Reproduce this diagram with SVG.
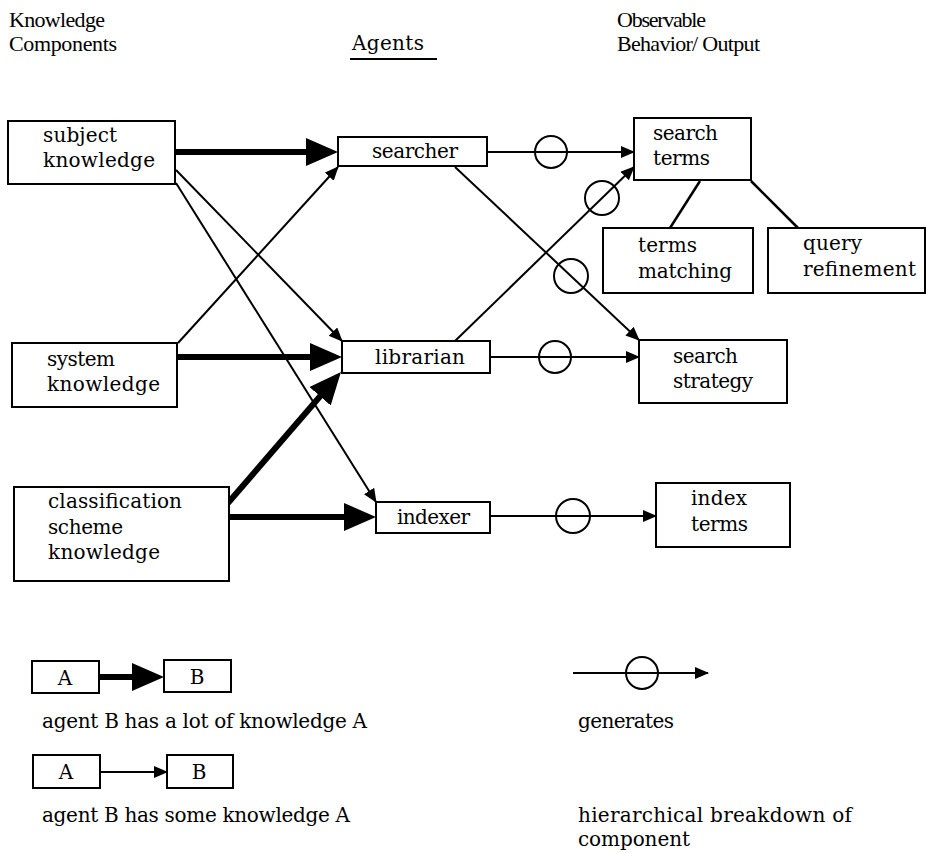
<svg xmlns="http://www.w3.org/2000/svg" width="926" height="853" viewBox="0 0 926 853">
<style>
  .box { fill: #fff; stroke: #000; stroke-width: 2; }
  .t { font-family: "DejaVu Serif", "Liberation Serif", serif; font-size: 20px; fill: #000; }
  .h { font-family: "Liberation Serif", "DejaVu Serif", serif; font-size: 22px; fill: #000; }
  .thick { stroke: #000; stroke-width: 6; fill: none; marker-end: url(#big); }
  .thin { stroke: #000; stroke-width: 2; fill: none; marker-end: url(#small); }
  .gen { fill: none; stroke: #000; stroke-width: 2; }
  .hier { stroke: #000; stroke-width: 2.5; fill: none; }
</style>
<defs>
  <marker id="big" markerUnits="userSpaceOnUse" markerWidth="34" markerHeight="30" refX="10" refY="14" orient="auto">
    <path d="M0,0 L32,14 L0,28 Z" fill="#000"/>
  </marker>
  <marker id="small" markerUnits="userSpaceOnUse" markerWidth="16" markerHeight="14" refX="13" refY="6" orient="auto">
    <path d="M0,0 L14,6 L0,12 Z" fill="#000"/>
  </marker>
</defs>
<rect width="926" height="853" fill="#fff"/>

<g id="headers">
  <text class="h" x="9" y="27" textLength="96">Knowledge</text>
  <text class="h" x="9" y="51" textLength="108">Components</text>
  <text class="t" x="352" y="50" textLength="72">Agents</text>
  <line x1="350" y1="59" x2="437" y2="59" stroke="#000" stroke-width="2"/>
  <text class="h" x="617" y="27" textLength="89">Observable</text>
  <text class="h" x="617" y="51" textLength="143">Behavior/ Output</text>
</g>

<g id="connectors">
  <!-- thick: a lot of knowledge -->
  <line class="thick" x1="175" y1="152" x2="316" y2="152"/>
  <line class="thick" x1="177" y1="357" x2="320" y2="357"/>
  <line class="thick" x1="229" y1="517" x2="354" y2="517"/>
  <line class="thick" x1="228" y1="503" x2="326.6" y2="388.7"/>
  <!-- thin: some knowledge -->
  <line class="thin" x1="176" y1="170" x2="342" y2="341"/>
  <line class="thin" x1="176" y1="183" x2="376" y2="502"/>
  <line class="thin" x1="178" y1="343" x2="338" y2="167"/>
  <!-- generates -->
  <line class="thin" x1="487" y1="152" x2="634" y2="152"/>
  <line class="thin" x1="455" y1="167" x2="639" y2="340"/>
  <line class="thin" x1="455" y1="341" x2="634" y2="167"/>
  <line class="thin" x1="490" y1="357" x2="639" y2="357"/>
  <line class="thin" x1="490" y1="516" x2="656" y2="516"/>
  <circle class="gen" cx="551" cy="152" r="16"/>
  <circle class="gen" cx="571" cy="276" r="17"/>
  <circle class="gen" cx="602" cy="198" r="17"/>
  <circle class="gen" cx="555" cy="357" r="16"/>
  <circle class="gen" cx="573" cy="516" r="17"/>
  <!-- hierarchy -->
  <line class="hier" x1="700" y1="181" x2="670" y2="228"/>
  <line class="hier" x1="751" y1="181" x2="798" y2="228"/>
</g>

<g id="subject-knowledge">
  <rect class="box" x="8" y="121" width="167" height="63"/>
  <text class="t" x="43" y="142" textLength="74">subject</text>
  <text class="t" x="43" y="167" textLength="112">knowledge</text>
</g>
<g id="system-knowledge">
  <rect class="box" x="12" y="343" width="165" height="64"/>
  <text class="t" x="47" y="366" textLength="68">system</text>
  <text class="t" x="47" y="391" textLength="113">knowledge</text>
</g>
<g id="classification-scheme-knowledge">
  <rect class="box" x="14" y="487" width="215" height="94"/>
  <text class="t" x="48" y="508" textLength="134">classification</text>
  <text class="t" x="48" y="534" textLength="75">scheme</text>
  <text class="t" x="48" y="559" textLength="112">knowledge</text>
</g>
<g id="searcher">
  <rect class="box" x="338" y="137" width="149" height="29"/>
  <text class="t" x="372" y="158" textLength="86">searcher</text>
</g>
<g id="librarian">
  <rect class="box" x="342" y="341" width="148" height="32"/>
  <text class="t" x="375" y="364" textLength="90">librarian</text>
</g>
<g id="indexer">
  <rect class="box" x="376" y="502" width="114" height="31"/>
  <text class="t" x="397" y="524" textLength="73">indexer</text>
</g>
<g id="search-terms">
  <rect class="box" x="634" y="118" width="117" height="62"/>
  <text class="t" x="653" y="140" textLength="65">search</text>
  <text class="t" x="653" y="165" textLength="57">terms</text>
</g>
<g id="terms-matching">
  <rect class="box" x="603" y="228" width="150" height="65"/>
  <text class="t" x="638" y="252" textLength="59">terms</text>
  <text class="t" x="638" y="278" textLength="94">matching</text>
</g>
<g id="query-refinement">
  <rect class="box" x="768" y="228" width="157" height="65"/>
  <text class="t" x="803" y="250" textLength="59">query</text>
  <text class="t" x="803" y="276" textLength="113">refinement</text>
</g>
<g id="search-strategy">
  <rect class="box" x="639" y="340" width="148" height="63"/>
  <text class="t" x="673" y="363" textLength="65">search</text>
  <text class="t" x="673" y="388" textLength="80">strategy</text>
</g>
<g id="index-terms">
  <rect class="box" x="656" y="483" width="134" height="64"/>
  <text class="t" x="691" y="505" textLength="56">index</text>
  <text class="t" x="691" y="531" textLength="57">terms</text>
</g>

<g id="legend">
  <rect class="box" x="32" y="661" width="67" height="32"/>
  <text class="t" x="65" y="685" text-anchor="middle">A</text>
  <rect class="box" x="164" y="660" width="67" height="32"/>
  <text class="t" x="197" y="684" text-anchor="middle">B</text>
  <line class="thick" x1="99" y1="677" x2="142" y2="677"/>
  <text class="t" x="42" y="728" textLength="325">agent B has a lot of knowledge A</text>

  <rect class="box" x="33" y="755" width="67" height="33"/>
  <text class="t" x="66" y="779" text-anchor="middle">A</text>
  <rect class="box" x="167" y="755" width="66" height="33"/>
  <text class="t" x="199" y="779" text-anchor="middle">B</text>
  <line class="thin" x1="100" y1="772" x2="167" y2="772"/>
  <text class="t" x="42" y="822" textLength="308">agent B has some knowledge A</text>

  <line class="thin" x1="573" y1="673" x2="708" y2="673"/>
  <circle class="gen" cx="642" cy="673" r="16"/>
  <text class="t" x="578" y="728" textLength="96">generates</text>

  <text class="t" x="578" y="822" textLength="274">hierarchical breakdown of</text>
  <text class="t" x="578" y="846" textLength="112">component</text>
</g>
</svg>
